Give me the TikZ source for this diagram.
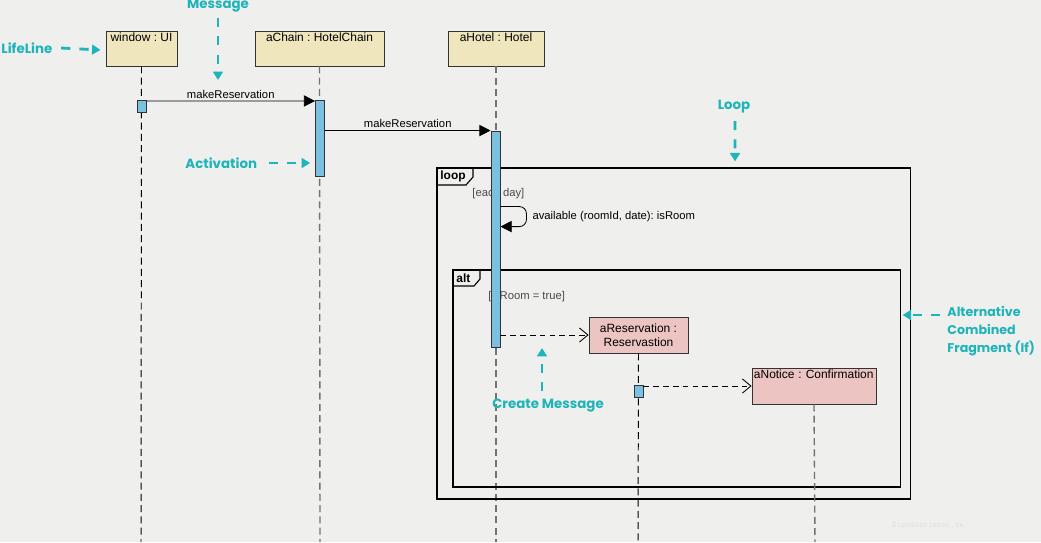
\documentclass[tikz,border=0pt]{standalone}
\usepackage{fontspec}
\setmainfont{Liberation Sans}
\newfontfamily\notefont{Poppins}
\usepackage{xcolor}
\usepackage{tikz}
\usetikzlibrary{arrows.meta,positioning,calc}
\definecolor{UmlPaper}{HTML}{EFF0EE}
\definecolor{UmlBeige}{HTML}{F0E6BE}
\definecolor{UmlPink}{HTML}{ECC4C2}
\definecolor{UmlBlue}{HTML}{7AC0E0}
\definecolor{UmlCyan}{HTML}{1FB3BA}
\definecolor{UmlGuard}{HTML}{4A4A4A}
\frenchspacing

\begin{document}
\begin{tikzpicture}[x=0.025cm, y=-0.025cm, line width=0.6pt,
  head/.style={draw=black!80, fill=UmlBeige, minimum height=0.875cm, inner ysep=1.4pt,
    text height=6pt, text depth=16pt, font=\fontsize{8.5}{10}\selectfont},
  obj/.style={draw=black!80, fill=UmlPink, minimum width=2.475cm, minimum height=0.9cm,
    align=center, inner sep=1pt, font=\fontsize{8.5}{10}\selectfont},
  act/.style={draw=black!80, fill=UmlBlue, minimum width=0.225cm, inner sep=0pt},
  life/.style={dashed, black!70, line width=0.7pt, dash pattern=on 5pt off 3pt},
  msg/.style={-{Triangle[length=8pt,width=8pt]}, line width=0.6pt},
  create/.style={-{Straight Barb[length=6pt,width=10pt]}, dashed, dash pattern=on 4pt off 3pt},
  msglabel/.style={font=\fontsize{8}{9.6}\selectfont, inner sep=1.5pt},
  guard/.style={font=\fontsize{8}{9.6}\selectfont, text=UmlGuard, anchor=west, inner sep=0pt},
  frame/.style={draw=black, line width=0.8pt, inner sep=0pt},
  tab/.style={font=\bfseries\fontsize{8.5}{10}\selectfont, anchor=west, inner sep=0pt},
  note/.style={font=\notefont\bfseries\fontsize{9.5}{12.8}\selectfont, text=UmlCyan, inner sep=0pt},
  notearrow/.style={UmlCyan, line width=2pt, dash pattern=on 6.5pt off 6.5pt,
    -{Triangle[length=6pt,width=7pt]}}]

\path[use as bounding box, clip] (0,0) rectangle (1041,542);
\fill[UmlPaper] (0,0) rectangle (1041,542);

% lifeline heads
\node[head, minimum width=1.775cm] (winHead) at (141.5,48.5) {window : UI};
\node[head, minimum width=3.225cm] (chainHead) at (319.5,48.5) {aChain : HotelChain};
\node[head, minimum width=2.4cm] (hotelHead) at (496,48.5) {aHotel : Hotel};

\coordinate (winEnd) at (141,542);
\coordinate (chainEnd) at (320,542);
\coordinate (hotelEnd) at (496,542);
\draw[life, black] (winHead.south) -- (winEnd);
\draw[life, black!55, line width=1pt] (chainHead.south) -- (chainEnd);
\draw[life, black!55, line width=1pt] (hotelHead.south) -- (hotelEnd);

% fragments
\node[frame, minimum width=11.825cm, minimum height=8.275cm] (loopFrame) at (673.5,333.5) {};
\node[frame, minimum width=11.175cm, minimum height=5.425cm] (altFrame) at (676.5,378.5) {};
\draw[line width=0.8pt] (437,185) -- (466,185) -- (473,177) -- (473,168);
\node[tab] (loopTab) at (440,176.5) {loop};
\draw[line width=0.8pt] (453,286) -- (474,286) -- (480,279) -- (480,270);
\node[tab] (altTab) at (456,278.5) {alt};
\node[guard] (dayGuard) at (472,194) {[each day]};
\node[guard] (roomGuard) at (488,296.5) {[isRoom = true]};

% created objects
\node[obj] (resBox) at (638.5,335) {aReservation :\\Reservastion};
\node[obj, minimum width=3.1cm, align=left, text width=3.0cm, text height=6pt, text depth=16pt,
  inner xsep=1pt] (noticeBox) at (814,386) {aNotice : Confirmation};
\coordinate (resEnd) at (638,542);
\coordinate (noticeEnd) at (815,542);
\draw[life, black] (resBox.south) -- (resEnd);
\draw[life, black!55, line width=1pt] (noticeBox.south) -- (noticeEnd);

% activations
\node[act, minimum height=0.3cm] (winAct) at (141.5,106) {};
\node[act, minimum height=1.9cm] (chainAct) at (320,138) {};
\node[act, minimum height=5.4cm] (hotelAct) at (495.5,239) {};
\node[act, minimum height=0.3cm] (resAct) at (638.5,391) {};

% messages
\draw[msg] ([yshift=-1pt]winAct.north east) -- node[msglabel, above] {makeReservation} ([yshift=-1pt]chainAct.north west);
\draw[msg] (chainAct.east |- hotelAct.north west) -- node[msglabel, above] {makeReservation} (hotelAct.north west);
\draw[msg, rounded corners=5pt] ([yshift=-1.9cm]hotelAct.north east) -- ++(26,0) -- ++(0,20) -- ([yshift=-2.4cm]hotelAct.north east);
\node[msglabel, anchor=west] (availLabel) at (530,217) {available (roomId, date): isRoom};
\draw[create] (hotelAct.east |- resBox.west) -- (resBox.west);
\draw[create] (resAct.east |- noticeBox.west) -- (noticeBox.west);

% annotations
\node[note, anchor=west] (lifeNote) at (1,48) {LifeLine};
\draw[notearrow] ($(lifeNote.east)+(6pt,0)$) -- ($(winHead.west)+(-5,1.5)$);
\node[note] (msgNote) at (218,6) {Message};
\coordinate (msgTip) at (218,80);
\draw[notearrow] (218,18) -- (msgTip);
\node[note, anchor=west] (actNote) at (185,163) {Activation};
\draw[notearrow] ($(actNote.east)+(8pt,0)$) -- ($(actNote.east -| chainAct.west)+(-5,0)$);
\node[note] (loopNote) at (734,107) {Loop};
\draw[notearrow] (735,121) -- ($(loopFrame.north)+(61.5,-6)$);
\node[note, anchor=north west, align=left, font=\notefont\bfseries\fontsize{9}{12.8}\selectfont]
  (altNote) at (947,306) {Alternative\\Combined\\Fragment (If)};
\coordinate (altStart) at (940,315);
\draw[notearrow] (altStart) -- ($(altStart -| altFrame.east)+(2,0)$);
\node[note] (createNote) at (548,406) {Create Message};
\coordinate (createStart) at (542,391);
\draw[notearrow] (createStart) -- (542,348);

\node[font=\ttfamily\fontsize{6}{7}\selectfont, text=black!12] (mark) at (928,525) {Diendantinhoc.vn};
\end{tikzpicture}
\end{document}
